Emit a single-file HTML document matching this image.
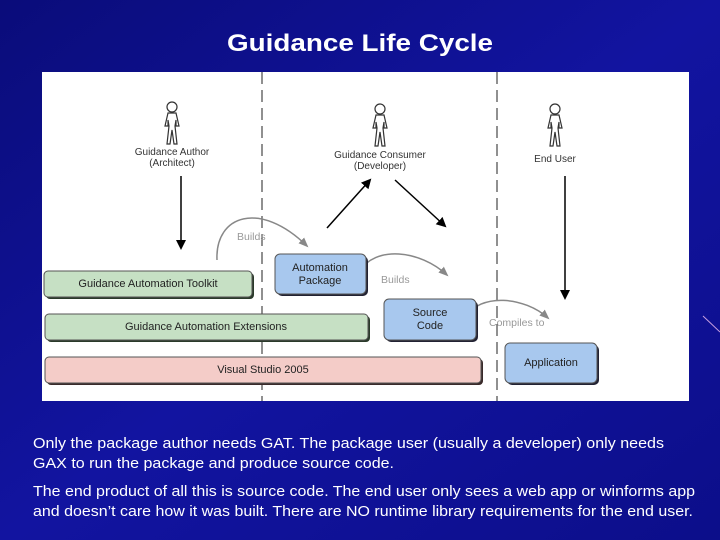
<!DOCTYPE html>
<html><head><meta charset="utf-8"><style>
html,body{margin:0;padding:0;width:720px;height:540px;overflow:hidden;background:#0e0f8f}
svg{display:block}
</style></head><body>
<svg width="720" height="540" viewBox="0 0 720 540" xmlns="http://www.w3.org/2000/svg" font-family="Liberation Sans, sans-serif">
<defs>
<linearGradient id="bg" x1="0" y1="0" x2="1" y2="1">
<stop offset="0" stop-color="#0a0c7a"/><stop offset="0.5" stop-color="#1214a0"/><stop offset="1" stop-color="#0c0e8a"/>
</linearGradient>
<marker id="ah" markerWidth="10" markerHeight="10" refX="8" refY="5" orient="auto" markerUnits="userSpaceOnUse"><path d="M0,0 L10,5 L0,10 z" fill="#000"/></marker>
<marker id="gh" markerWidth="10" markerHeight="10" refX="8" refY="5" orient="auto" markerUnits="userSpaceOnUse"><path d="M0,1 L10,5 L0,9 z" fill="#888"/></marker>
<g id="actor" fill="none" stroke="#333" stroke-width="1.2">
<circle cx="0" cy="-17" r="5"/>
<path d="M-4,-11 L4,-11 L7,2 L4,2 L4,-4 L3,2 L5,20 L2,20 L0,6 L-2,20 L-5,20 L-3,2 L-4,-4 L-4,2 L-7,2 Z"/>
</g>
</defs>
<rect width="720" height="540" fill="url(#bg)"/>
<text x="360" y="51" fill="#fff" font-size="24" font-weight="bold" text-anchor="middle" textLength="266" lengthAdjust="spacingAndGlyphs">Guidance Life Cycle</text>
<rect x="42" y="72" width="647" height="329" fill="#fff"/>
<line x1="262" y1="72" x2="262" y2="401" stroke="#222" stroke-width="1" stroke-dasharray="12,6"/>
<line x1="497" y1="72" x2="497" y2="401" stroke="#222" stroke-width="1" stroke-dasharray="12,6"/>
<use href="#actor" x="172" y="124"/>
<use href="#actor" x="380" y="126"/>
<use href="#actor" x="555" y="126"/>
<g font-size="10" fill="#333" text-anchor="middle">
<text x="172" y="155">Guidance Author</text><text x="172" y="166">(Architect)</text>
<text x="380" y="158">Guidance Consumer</text><text x="380" y="169">(Developer)</text>
<text x="555" y="162">End User</text>
</g>
<g stroke="#000" stroke-width="1.5">
<line x1="181" y1="176" x2="181" y2="248" marker-end="url(#ah)"/>
<line x1="327" y1="228" x2="370" y2="180" marker-end="url(#ah)"/>
<line x1="395" y1="180" x2="445" y2="226" marker-end="url(#ah)"/>
<line x1="565" y1="176" x2="565" y2="298" marker-end="url(#ah)"/>
</g>
<g fill="none" stroke="#888" stroke-width="1.5">
<path d="M217,260 C215,215 260,200 307,246" marker-end="url(#gh)"/>
<path d="M359,272 C375,245 420,250 447,275" marker-end="url(#gh)"/>
<path d="M465,318 C480,292 525,297 548,318" marker-end="url(#gh)"/>
</g>
<g font-size="10.5" fill="#999">
<text x="237" y="240">Builds</text>
<text x="381" y="283">Builds</text>
<text x="489" y="326">Compiles to</text>
</g>
<g stroke="#555" stroke-width="1">
<rect x="46" y="273" width="208" height="26" rx="4" fill="#2a3a2a" stroke="none"/>
<rect x="44" y="271" width="208" height="26" rx="4" fill="#c6e0c4"/>
<rect x="47" y="316" width="323" height="26" rx="4" fill="#2a3a2a" stroke="none"/>
<rect x="45" y="314" width="323" height="26" rx="4" fill="#c6e0c4"/>
<rect x="47" y="359" width="436" height="26" rx="4" fill="#3a2a2a" stroke="none"/>
<rect x="45" y="357" width="436" height="26" rx="4" fill="#f4ccc8"/>
<rect x="277" y="256" width="91" height="40" rx="5" fill="#223" stroke="none"/>
<rect x="275" y="254" width="91" height="40" rx="5" fill="#a8c8ee"/>
<rect x="386" y="301" width="92" height="41" rx="5" fill="#223" stroke="none"/>
<rect x="384" y="299" width="92" height="41" rx="5" fill="#a8c8ee"/>
<rect x="507" y="345" width="92" height="40" rx="5" fill="#223" stroke="none"/>
<rect x="505" y="343" width="92" height="40" rx="5" fill="#a8c8ee"/>
</g>
<g font-size="11" fill="#222" text-anchor="middle">
<text x="148" y="287">Guidance Automation Toolkit</text>
<text x="206" y="330">Guidance Automation Extensions</text>
<text x="263" y="373">Visual Studio 2005</text>
<text x="320" y="271">Automation</text><text x="320" y="284">Package</text>
<text x="430" y="316">Source</text><text x="430" y="329">Code</text>
<text x="551" y="366">Application</text>
</g>
<line x1="703" y1="316" x2="720" y2="332" stroke="#c9a0e0" stroke-width="1"/>
<g font-size="15" fill="#fff">
<text x="33" y="448" textLength="631" lengthAdjust="spacingAndGlyphs">Only the package author needs GAT. The package user (usually a developer) only needs</text>
<text x="33" y="468" textLength="361" lengthAdjust="spacingAndGlyphs">GAX to run the package and produce source code.</text>
<text x="33" y="496" textLength="662" lengthAdjust="spacingAndGlyphs">The end product of all this is source code. The end user only sees a web app or winforms app</text>
<text x="33" y="516" textLength="660" lengthAdjust="spacingAndGlyphs">and doesn’t care how it was built. There are NO runtime library requirements for the end user.</text>
</g>
</svg>
</body></html>
